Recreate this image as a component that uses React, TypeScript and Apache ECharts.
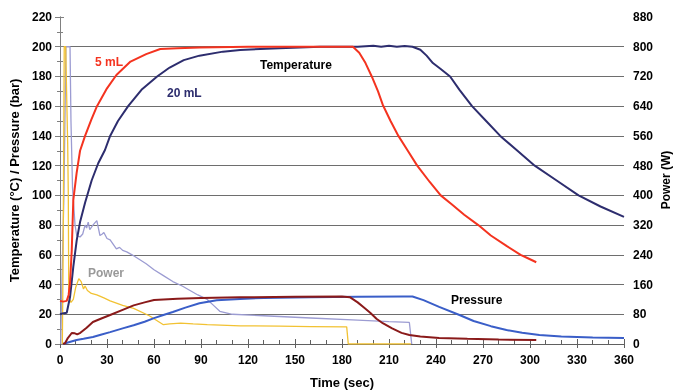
import React, { useEffect, useRef } from "react";
import * as echarts from "echarts";

// Temperature, 5 mL (°C)
const temp5Time = [0, 2, 4.3, 5.5, 6.4, 7.5, 8.5, 10.6, 12.8, 16, 20, 23.6, 30, 36, 45, 55, 64, 75, 89, 120, 150, 180, 187, 191, 195, 199, 203, 206, 211, 216, 222, 228, 236, 243, 250, 258, 267, 275, 285, 294, 300, 304];
const temp5Value = [29, 28.5, 29, 33, 41, 63, 97, 115, 130, 140, 151, 160, 172, 181, 190, 195, 198.5, 199, 199.5, 200, 200, 200, 200, 196, 189, 180, 170, 161, 150, 140, 130, 120, 109, 100, 94, 87, 80, 73, 66, 60, 57, 55];

// Temperature, 20 mL (°C)
const temp20Time = [0, 1.5, 4.3, 6.4, 8.5, 10.7, 12.8, 16, 20.2, 24.4, 28.7, 32, 37, 43.5, 52, 62, 70, 79, 89, 104, 115, 140, 166, 190, 200, 205, 210, 215, 220, 225, 230, 234, 238, 243, 249, 255, 263, 272, 281, 292, 303, 317, 331, 345, 360];
const temp20Value = [20, 20.5, 21, 31.6, 52, 70, 82, 95, 110, 121.6, 130.5, 140, 150, 160, 171, 180, 186, 191, 194, 196.7, 197.8, 199, 200, 200, 200.6, 200, 200.6, 200, 200.5, 200, 198, 194, 189, 185, 180, 171, 160, 150, 140, 130, 120, 110, 100, 92.5, 85.5];

// Pressure, 5 mL (bar)
const pres5Time = [2, 3.2, 5, 7.5, 9.5, 11, 13, 17, 21, 26, 32, 40, 47, 54, 60, 75, 90, 115, 150, 180, 185, 190, 194, 198, 202, 206, 212, 218, 223, 230, 242, 260, 280, 304];
const pres5Value = [0, 0.5, 4, 7.4, 7.2, 6.5, 7.5, 11, 14.8, 17, 19.5, 23, 26, 28, 29.6, 30.5, 31, 31.4, 31.8, 32, 31.5, 28, 24.5, 21, 17, 14, 10.5, 7.5, 6, 5, 4, 3.5, 3, 2.7];

// Pressure, 20 mL (bar)
const pres20Time = [2, 5, 10.6, 15, 21, 26, 32, 40, 47, 54, 60, 66, 72, 80, 89, 100, 115, 130, 160, 190, 219, 225, 232, 242, 255, 264, 275, 285, 295, 306, 320, 340, 360];
const pres20Value = [0, 1, 2.7, 3.5, 4.7, 6.2, 8, 10.5, 12.6, 15, 17.4, 19.5, 21.5, 24.5, 27.4, 29.5, 30.3, 31, 31.5, 31.8, 32, 32, 29.5, 25, 19.5, 15.5, 12, 9.4, 7.5, 6, 5, 4.3, 4];

// Power, 5 mL (W)
const pow5Time = [1.5, 2, 2.7, 3.6, 4.9, 5.3, 5.6, 7, 8.5, 10, 12, 13.5, 15, 16, 17.5, 20, 23.5, 28, 32, 40, 47, 57, 66, 70, 77, 85, 94, 115, 140, 160, 183, 184, 224];
const pow5Value = [0, 240, 800, 800, 540, 400, 126, 112, 120, 152, 176, 168, 148, 156, 144, 136, 132, 124, 116, 104, 96, 76, 52, 54, 56, 54, 52, 49, 48, 47, 46, 0, 0];

// Power, 20 mL (W)
const pow20Time = [0.5, 1, 2.5, 3.8, 6.4, 7, 8, 9.6, 10.7, 12.8, 14.5, 16, 17, 18, 19, 21, 23.5, 25.5, 27, 28, 30, 32, 34, 36, 38, 40, 42.6, 46, 49, 55, 60, 66, 72, 78, 83, 88, 94, 98, 102, 106, 110, 130, 160, 190, 210, 223, 224.5];
const pow20Value = [0, 130, 400, 800, 800, 600, 420, 320, 292, 288, 296, 320, 312, 328, 308, 320, 332, 292, 296, 300, 284, 280, 268, 256, 260, 252, 248, 240, 232, 216, 200, 184, 168, 156, 144, 132, 120, 104, 88, 84, 80, 76, 70, 64, 60, 58, 0];

const FONT = "Liberation Sans";

function zip(t: number[], v: number[]) {
  return t.map((x, i) => [x, v[i]]);
}

export default function App() {
  const ref = useRef<HTMLDivElement>(null);
  useEffect(() => {
    if (!ref.current) return;
    const chart = echarts.init(ref.current, null, { renderer: "svg" });
    const axisColor = "#808080";
    const label = { color: "#000", fontFamily: FONT, fontWeight: "bold", fontSize: 12 };
    const nameStyle = { color: "#000", fontFamily: FONT, fontWeight: "bold", fontSize: 13 };
    const line = (name: string, data: number[][], color: string, width: number, yAxisIndex = 0) => ({
      name,
      type: "line",
      data,
      yAxisIndex,
      showSymbol: false,
      symbol: "none",
      smooth: false,
      lineStyle: { color, width },
      itemStyle: { color },
    });
    chart.setOption({
      animation: false,
      grid: { left: 60, right: 49, top: 17, bottom: 46, containLabel: false, outerBoundsMode: "none" },
      xAxis: [
        {
          type: "value",
          min: 0,
          max: 360,
          interval: 30,
          position: "bottom",
          name: "Time (sec)",
          nameLocation: "middle",
          nameGap: 32,
          nameTextStyle: nameStyle,
          axisLine: { show: true, onZero: false, lineStyle: { color: "#606060", width: 1 } },
          axisTick: { show: true, inside: true, length: 5, lineStyle: { color: "#606060" } },
          minorTick: { show: true, splitNumber: 3, length: 4, lineStyle: { color: "#606060" } },
          axisLabel: { ...label, margin: 10 },
          splitLine: { show: false },
        },
        {
          type: "value",
          min: 0,
          max: 360,
          interval: 30,
          position: "bottom",
          axisLine: { show: false, onZero: false },
          axisTick: { show: true, inside: false, length: 4, lineStyle: { color: "#606060" } },
          axisLabel: { show: false },
          splitLine: { show: false },
        },
      ],
      yAxis: [
        {
          type: "value",
          min: 0,
          max: 220,
          interval: 20,
          position: "left",
          name: "Temperature (°C) / Pressure (bar)",
          nameLocation: "middle",
          nameGap: 35,
          nameTextStyle: nameStyle,
          axisLine: { show: true, lineStyle: { color: axisColor, width: 1 } },
          axisTick: { show: true, inside: true, length: 4, lineStyle: { color: axisColor } },
          minorTick: { show: true, splitNumber: 2, length: 3, lineStyle: { color: axisColor } },
          axisLabel: { ...label, margin: 8 },
          splitLine: { show: true, showMaxLine: false, showMinLine: false, lineStyle: { color: "#6e6e6e", width: 1 } },
        },
        {
          type: "value",
          min: 0,
          max: 880,
          interval: 80,
          position: "right",
          axisLine: { show: true, lineStyle: { color: axisColor, width: 1 } },
          axisTick: { show: true, inside: true, length: 5, lineStyle: { color: axisColor } },
          minorTick: { show: true, splitNumber: 2, length: 3, lineStyle: { color: axisColor } },
          axisLabel: { ...label, margin: 9 },
          splitLine: { show: false },
        },
        {
          type: "value",
          min: 0,
          max: 220,
          interval: 20,
          position: "left",
          axisLine: { show: false },
          axisTick: { show: true, inside: false, length: 3, lineStyle: { color: axisColor } },
          axisLabel: { show: false },
          splitLine: { show: false },
        },
      ],
      series: [
        line("Power 20 mL", zip(pow20Time, pow20Value), "#9c9cd2", 1.3, 1),
        line("Power 5 mL", zip(pow5Time, pow5Value), "#f2c233", 1.3, 1),
        line("Pressure 20 mL", zip(pres20Time, pres20Value), "#3a5ec8", 2),
        line("Pressure 5 mL", zip(pres5Time, pres5Value), "#8a1a1a", 2),
        line("Temperature 20 mL", zip(temp20Time, temp20Value), "#2d2d6e", 2),
        line("Temperature 5 mL", zip(temp5Time, temp5Value), "#f4331f", 2),
      ],
      graphic: [
        { type: "text", x: 666, y: 180, rotation: Math.PI / 2, style: { text: "Power (W)", fill: "#000", font: `bold 12px "${FONT}"`, align: "center", verticalAlign: "middle" } },
        { type: "text", x: 95, y: 62, style: { text: "5 mL", fill: "#f4331f", font: `bold 12px "${FONT}"`, align: "left", verticalAlign: "middle" } },
        { type: "text", x: 260, y: 65, style: { text: "Temperature", fill: "#000", font: `bold 12px "${FONT}"`, align: "left", verticalAlign: "middle" } },
        { type: "text", x: 167, y: 93, style: { text: "20 mL", fill: "#2d2d6e", font: `bold 12px "${FONT}"`, align: "left", verticalAlign: "middle" } },
        { type: "text", x: 88, y: 273, style: { text: "Power", fill: "#999999", font: `bold 12px "${FONT}"`, align: "left", verticalAlign: "middle" } },
        { type: "text", x: 451, y: 300, style: { text: "Pressure", fill: "#000", font: `bold 12px "${FONT}"`, align: "left", verticalAlign: "middle" } },
      ],
    });
    return () => chart.dispose();
  }, []);
  return <div ref={ref} style={{ position: "fixed", left: 0, top: 0, width: 673, height: 390 }} />;
}
